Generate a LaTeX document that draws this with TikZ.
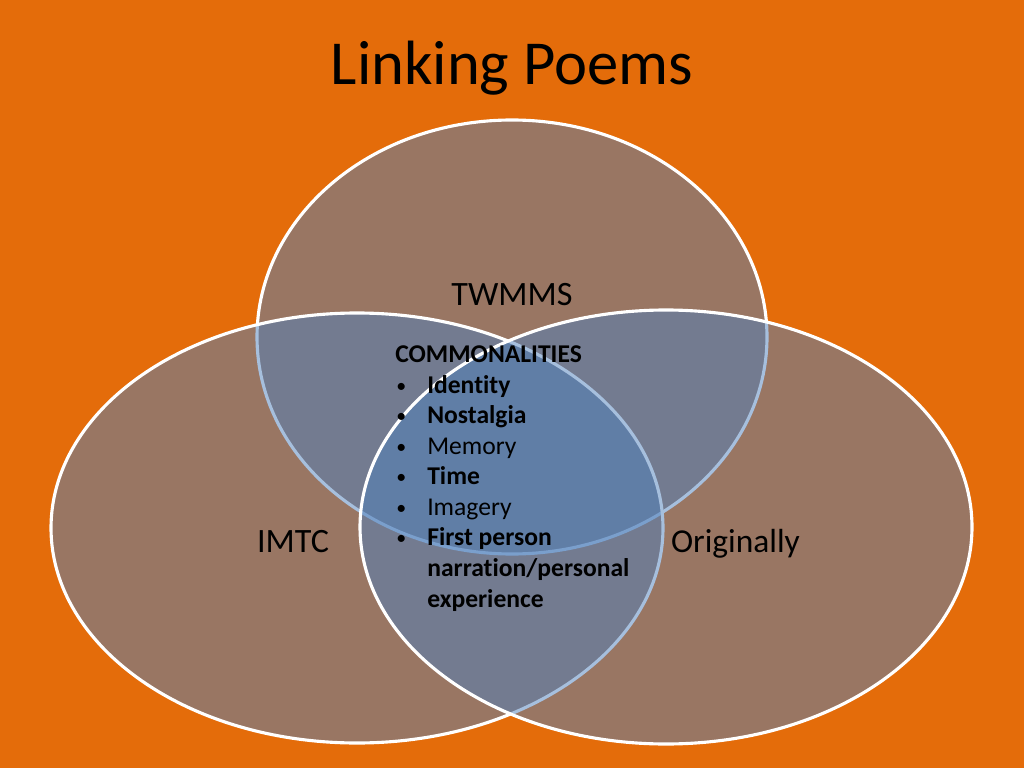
\documentclass[tikz,border=0pt]{standalone}
\usepackage{fontspec}
\setmainfont[RawFeature=-liga]{Carlito}
\definecolor{slideorange}{HTML}{E46C0A}
\definecolor{vennblue}{HTML}{4F81BD}
\tikzset{
  venn/.style={fill=vennblue, fill opacity=0.5, draw=white, line width=2.2pt},
  setlabel/.style={anchor=base, font=\fontsize{24}{29}\selectfont},
  listline/.style={anchor=base west, inner sep=0pt, font=\fontsize{18}{21.6}\selectfont}
}
\begin{document}
\begin{tikzpicture}[x=0.703125pt, y=-0.703125pt]
    \fill[slideorange] (0,0) rectangle (1024,768);
    \node[anchor=base] (title) at (512,85) {\fontsize{44}{53}\selectfont Linking Poems};

    \draw[venn] (512,337) ellipse [x radius=255, y radius=217];
    \draw[venn] (357,528) ellipse [x radius=306, y radius=215];
    \draw[venn] (666,527) ellipse [x radius=306, y radius=217];

    \node[setlabel] (twmms) at (512,305) {TWMMS};
    \node[setlabel] (imtc) at (293,552) {IMTC};
    \node[setlabel, anchor=base west] (originally) at (666,552) {\fontsize{23.5}{28}\selectfont Originally};

    \node[listline] (commonalities) at (395,362) {\bfseries COMMONALITIES};
    \foreach \y [count=\i] in {393,423,454,484,515,545}
        \node[listline, font=\fontsize{14}{16}\selectfont] (bullet\i) at (396,\y-1) {•};
    \node[listline] (identity) at (427,393) {\bfseries Identity};
    \node[listline] (nostalgia) at (427,423) {\bfseries Nostalgia};
    \node[listline] (memory) at (427,454) {Memory};
    \node[listline] (time) at (427,484) {\bfseries Time};
    \node[listline] (imagery) at (427,515) {Imagery};
    \node[listline] (firstperson) at (427,545) {\bfseries First person};
    \node[listline] (narration) at (427,576) {\bfseries narration/personal};
    \node[listline] (experience) at (427,607) {\bfseries experience};
\end{tikzpicture}
\end{document}
